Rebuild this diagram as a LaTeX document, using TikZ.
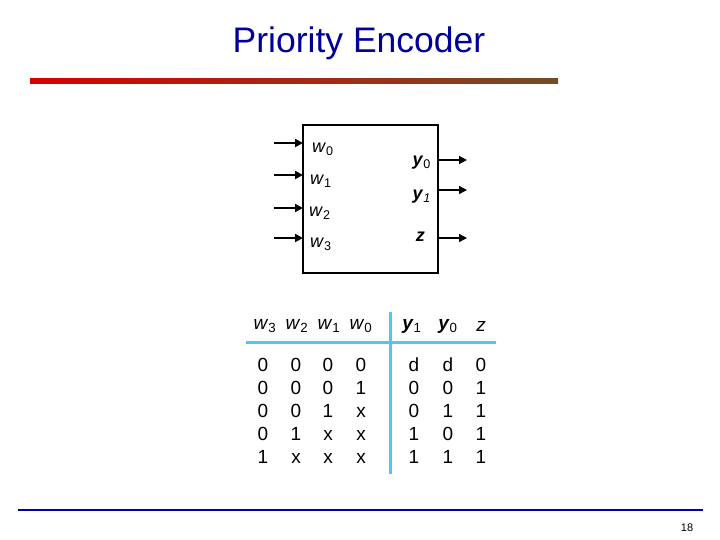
\documentclass[tikz,border=0pt]{standalone}
\usepackage{fontspec}
\setmainfont{Liberation Sans}
\usetikzlibrary{arrows.meta}
\begin{document}
\begin{tikzpicture}[x=1pt,y=-1pt,
  lbl/.style={inner sep=0pt,font=\fontsize{18}{20}\selectfont},
  cell/.style={inner sep=0pt,font=\fontsize{19}{21}\selectfont},
  arr/.style={line width=2pt,-{Triangle[length=8pt,width=8pt]}}]
\useasboundingbox (0,0) rectangle (720,540);
\node[inner sep=0pt,font=\fontsize{35.5}{40}\selectfont,text=blue!60!black] (title) at (359,43) {Priority Encoder};
\shade[left color=red!85!black,right color=brown!60!black] (30,78.5) rectangle (558,83.5);
\draw[line width=1.6pt,blue!70!black] (18,510) -- (703,510);
\node[inner sep=0pt,font=\fontsize{11}{13}\selectfont] (pg) at (687,528) {18};
% block
\draw[line width=2pt] (303,125) rectangle (438,273);
\foreach \y/\n in {143/0,175/1,208/2,238/3}{
  \coordinate (i\n) at (274,\y);
  \coordinate (e\n) at (303,\y);
  \draw[arr] (i\n) -- (e\n);
}
\node[lbl,anchor=west] (w0) at (312,149) {\textit{w}$_{\mathrm{0}}$};
\node[lbl,anchor=west] (w1) at (310,181) {\textit{w}$_{\mathrm{1}}$};
\node[lbl,anchor=west] (w2) at (309,213) {\textit{w}$_{\mathrm{2}}$};
\node[lbl,anchor=west] (w3) at (310,244) {\textit{w}$_{\mathrm{3}}$};
\node[lbl,anchor=east] (y0) at (431,163) {\textbf{\textit{y}}$_{\mathrm{0}}$};
\node[lbl,anchor=east] (y1) at (431,197) {\textbf{\textit{y}}$_{\mathit{1}}$};
\node[lbl,anchor=east] (zz) at (425,237) {\textbf{\textit{z}}};
\foreach \y/\n in {160/0,190/1,238/2}{
  \coordinate (s\n) at (438,\y);
  \coordinate (t\n) at (467,\y);
  \draw[arr,line width=1.3pt] (s\n) -- (t\n);
}
% table
\draw[cyan!70!white,line width=3pt] (246,342) -- (496,342);
\draw[cyan!70!white,line width=3pt] (390,312) -- (390,474);
\node[cell] (h1) at (265,326) {\textit{w}$_{\mathrm{3}}$};
\node[cell] (h2) at (297,326) {\textit{w}$_{\mathrm{2}}$};
\node[cell] (h3) at (329,326) {\textit{w}$_{\mathrm{1}}$};
\node[cell] (h4) at (361,326) {\textit{w}$_{\mathrm{0}}$};
\node[cell] (h5) at (412,326) {\textbf{\textit{y}}$_{\mathrm{1}}$};
\node[cell] (h6) at (448,326) {\textbf{\textit{y}}$_{\mathrm{0}}$};
\node[cell] (h7) at (481,326) {\textit{z}};
\foreach \y/\a/\b/\c/\d/\e/\f/\g [count=\r] in {
  364/0/0/0/0/d/d/0,
  387/0/0/0/1/0/0/1,
  410/0/0/1/x/0/1/1,
  433/0/1/x/x/1/0/1,
  456/1/x/x/x/1/1/1}{
  \node[cell,anchor=base] (c\r a) at (263,\y+7) {\a};
  \node[cell,anchor=base] (c\r b) at (296,\y+7) {\b};
  \node[cell,anchor=base] (c\r c) at (328,\y+7) {\c};
  \node[cell,anchor=base] (c\r d) at (361,\y+7) {\d};
  \node[cell,anchor=base] (c\r e) at (414,\y+7) {\e};
  \node[cell,anchor=base] (c\r f) at (448,\y+7) {\f};
  \node[cell,anchor=base] (c\r g) at (481,\y+7) {\g};
}
\end{tikzpicture}
\end{document}
